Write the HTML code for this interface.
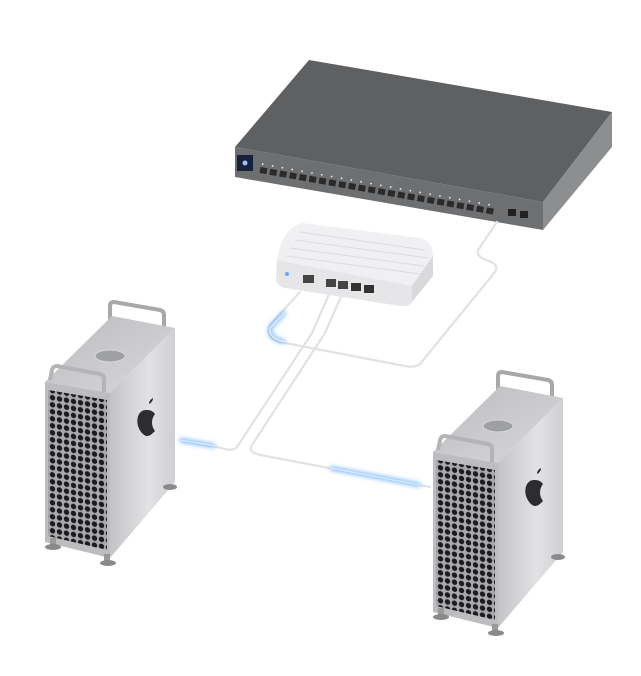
<!DOCTYPE html>
<html><head><meta charset="utf-8"><style>
html,body{margin:0;padding:0;background:#fff;}
svg{display:block}
</style></head><body>
<svg width="641" height="676" viewBox="0 0 641 676" xmlns="http://www.w3.org/2000/svg">
<defs>
  <pattern id="holes" width="7" height="7" patternUnits="userSpaceOnUse" patternTransform="skewY(10)">
    <rect width="7" height="7" fill="#a9a9ab"/>
    <circle cx="3.5" cy="3.5" r="2.7" fill="#1c1c1e"/>
  </pattern>
  <linearGradient id="side" x1="0" y1="0" x2="1" y2="0">
    <stop offset="0" stop-color="#c4c4c7"/><stop offset="0.6" stop-color="#e2e2e4"/><stop offset="1" stop-color="#d0d0d2"/>
  </linearGradient>
  <linearGradient id="top" x1="0" y1="0" x2="1" y2="1">
    <stop offset="0" stop-color="#bcbcbf"/><stop offset="1" stop-color="#d8d8da"/>
  </linearGradient>
  <filter id="glow" x="-50%" y="-50%" width="200%" height="200%"><feGaussianBlur stdDeviation="2.5"/></filter>
  <g id="mac">
    <path d="M110 322 L110 306 Q110 302 114 302 L160 310 Q164 311 164 315 L164 336" fill="none" stroke="#a8a8ab" stroke-width="4"/>
    <polygon points="45,382 110,393 175,328 112,316" fill="url(#top)"/>
    <ellipse cx="110" cy="356" rx="15" ry="6" fill="#9ea0a3" stroke="#d8d8da"/>
    <path d="M50 380 L52 370 Q53 366 57 366 L100 374 Q104 375 104 379 L104 392" fill="none" stroke="#b4b4b7" stroke-width="4"/>
    <polygon points="110,393 175,328 175,482 110,558" fill="url(#side)"/>
    <path d="M146 410 c-7 0 -10 8 -8 16 c2 6 6 10 9 10 c3 0 5 -2 8 -5 c-4 -5 -4 -12 0 -17 c-3 -4 -6 -4 -9 -4z M149 404 c0 -3 2 -5 4 -6 c0 3 -2 5 -4 6z" fill="#2d2d2f"/>
    <polygon points="45,382 110,393 110,558 45,542" fill="#bdbdbf"/>
    <polygon points="48,390 107,400 107,550 48,536" fill="url(#holes)"/>
    <rect x="50" y="538" width="6" height="8" fill="#999"/><ellipse cx="53" cy="547" rx="8" ry="3" fill="#8a8a8c"/>
    <rect x="104" y="554" width="6" height="8" fill="#999"/><ellipse cx="108" cy="563" rx="8" ry="3" fill="#8a8a8c"/>
    <ellipse cx="170" cy="487" rx="7" ry="3" fill="#8a8a8c"/>
  </g>
</defs>

<!-- Switch -->
<polygon points="235,147 309,60 612,112 543,202" fill="#5f6062"/>
<polygon points="235,147 543,202 543,230 235,177" fill="#6e6f71"/>
<polygon points="543,202 612,112 612,147 543,230" fill="#8d8e90"/>
<rect x="237" y="155" width="16" height="16" fill="#15223a"/>
<circle cx="245" cy="163" r="2.5" fill="#9fc0ff"/>
<g id="ports" fill="#1e1e1f">
  <line x1="260" y1="170" x2="496" y2="212" stroke="#2a2a2b" stroke-width="6" stroke-dasharray="7 3"/>
</g>
<g stroke="#f4f4f4" stroke-width="1.5" stroke-dasharray="1.5 8.5" fill="none">
  <line x1="262" y1="164" x2="496" y2="206"/>
</g>
<rect x="508" y="209" width="8" height="7" fill="#222"/><rect x="520" y="211" width="8" height="7" fill="#222"/>

<!-- Cables -->
<g fill="none" stroke="#e2e2e4" stroke-width="2.2" stroke-linecap="round" stroke-linejoin="round">
  <path d="M497 222 L478 250 Q476 256 486 260 Q500 264 495 272 L420 364 Q415 368 405 366 L280 342 Q265 338 270 325 L300 292"/>
  <path d="M330 292 L312 333 L237 447 Q232 452 222 448 L180 440"/>
  <path d="M343 292 L325 333 L252 445 Q247 452 260 455 L430 487"/>
</g>
<g fill="none" stroke="#4aa0ff" stroke-width="3" filter="url(#glow)">
  <path d="M285 312 L270 328 Q268 338 285 342"/>
  <path d="M180 440 L215 446"/>
  <path d="M330 468 L420 485"/>
</g>
<g fill="none" stroke="#d7ebff" stroke-width="1.6">
  <path d="M285 312 L270 328 Q268 338 285 342"/>
  <path d="M180 440 L215 446"/>
  <path d="M330 468 L420 485"/>
</g>

<!-- Gateway -->
<path d="M277 260 Q282 228 302 223 L420 238 Q433 242 433 256 L412 286 Z" fill="#f0f0f2"/>
<g stroke="#dcdcdf" stroke-width="1">
  <line x1="300" y1="232" x2="425" y2="250"/><line x1="295" y1="240" x2="428" y2="258"/>
  <line x1="290" y1="248" x2="424" y2="266"/><line x1="286" y1="256" x2="420" y2="274"/>
</g>
<path d="M277 260 L412 286 L412 302 Q410 307 400 306 L285 288 Q276 286 276 278 Z" fill="#e6e6e8"/>
<path d="M412 286 L433 256 L433 276 L412 302 Z" fill="#d9d9db"/>
<circle cx="287" cy="274" r="2" fill="#6aa6ff"/>
<rect x="303" y="275" width="11" height="8" fill="#444"/>
<rect x="326" y="279" width="10" height="8" fill="#444"/>
<rect x="338" y="281" width="10" height="8" fill="#444"/>
<rect x="351" y="283" width="10" height="8" fill="#333"/>
<rect x="364" y="285" width="10" height="8" fill="#333"/>

<!-- Macs -->
<use href="#mac"/>
<use href="#mac" transform="translate(388,70)"/>
</svg>
</body></html>
